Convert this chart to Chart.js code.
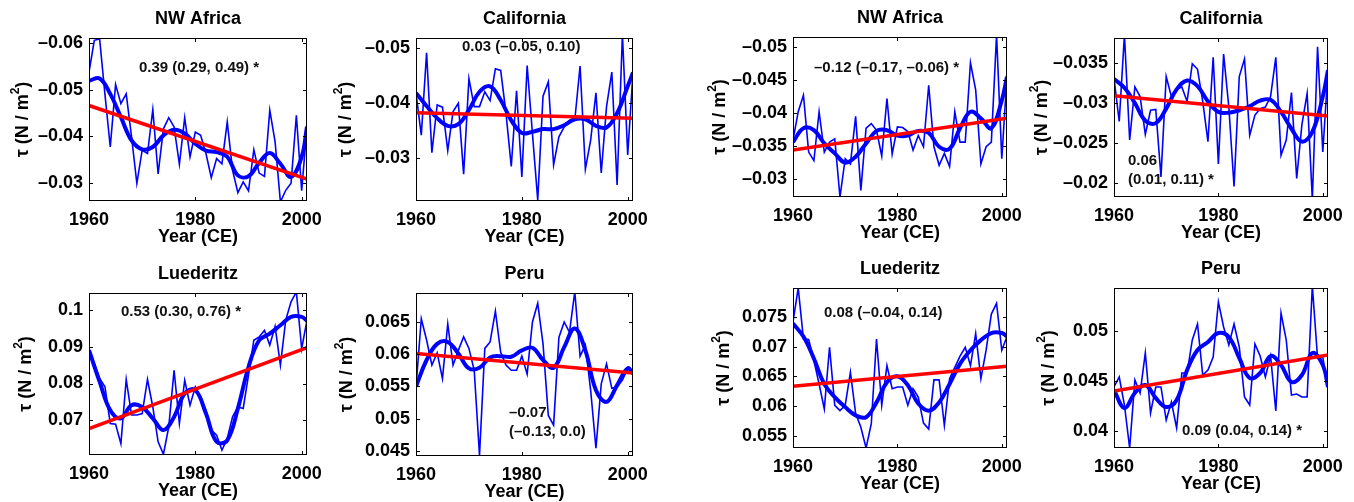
<!DOCTYPE html>
<html>
<head>
<meta charset="utf-8">
<script src="https://cdn.jsdelivr.net/npm/chart.js"></script>
<style>
  body { margin: 0; background: #fff; width: 1354px; height: 502px; position: relative; overflow: hidden; }
  canvas { position: absolute; }
</style>
</head>
<body>
<script>
const years = [1960, 1961, 1962, 1963, 1964, 1965, 1966, 1967, 1968, 1969,
  1970, 1971, 1972, 1973, 1974, 1975, 1976, 1977, 1978, 1979,
  1980, 1981, 1982, 1983, 1984, 1985, 1986, 1987, 1988, 1989,
  1990, 1991, 1992, 1993, 1994, 1995, 1996, 1997, 1998, 1999,
  2000, 2001];
const smoothYears = [1960, 1962, 1964, 1966, 1968, 1970, 1972, 1974, 1976, 1978,
  1980, 1982, 1984, 1986, 1988, 1990, 1992, 1994, 1996, 1998, 2000, 2001];
const trendYears = [1960, 2001];
const xTicks = [1960, 1980, 2000];

// NW Africa (left block)
const nwAfricaA = [-0.0538, -0.0606, -0.0609, -0.0490, -0.0377, -0.0511, -0.0470, -0.0491, -0.0399, -0.0299,
  -0.0370, -0.0363, -0.0457, -0.0319, -0.0416, -0.0440, -0.0420, -0.0340, -0.0440, -0.0356,
  -0.0409, -0.0402, -0.0363, -0.0311, -0.0352, -0.0341, -0.0431, -0.0327, -0.0279, -0.0302,
  -0.0283, -0.0371, -0.0321, -0.0314, -0.0456, -0.0388, -0.0259, -0.0284, -0.0299, -0.0445,
  -0.0283, -0.0421];
const nwAfricaASmooth = [-0.0519, -0.0524, -0.0491, -0.0441, -0.0391, -0.0372, -0.0377, -0.0402, -0.0414, -0.0406,
  -0.0384, -0.0369, -0.0366, -0.0356, -0.0316, -0.0314, -0.0343, -0.0364, -0.0341, -0.0313, -0.0356, -0.0421];
const nwAfricaATrend = [-0.0466, -0.0308];
const nwAfricaATicks = [-0.06, -0.05, -0.04, -0.03];

// California (left block)
const californiaA = [-0.0418, -0.0341, -0.0491, -0.0309, -0.0396, -0.0392, -0.0313, -0.0384, -0.0399, -0.0270,
  -0.0444, -0.0393, -0.0393, -0.0420, -0.0404, -0.0462, -0.0459, -0.0381, -0.0284, -0.0422,
  -0.0265, -0.0468, -0.0344, -0.0223, -0.0412, -0.0438, -0.0287, -0.0338, -0.0356, -0.0368,
  -0.0368, -0.0467, -0.0279, -0.0332, -0.0418, -0.0272, -0.0393, -0.0456, -0.0250, -0.0525,
  -0.0305, -0.0456];
const californiaASmooth = [-0.0418, -0.0394, -0.0372, -0.0358, -0.0361, -0.0387, -0.0420, -0.0430, -0.0405, -0.0368,
  -0.0345, -0.0347, -0.0352, -0.0352, -0.0359, -0.0370, -0.0370, -0.0358, -0.0355, -0.0381, -0.0430, -0.0455];
const californiaATrend = [-0.0382, -0.0372];
const californiaATicks = [-0.05, -0.04, -0.03];

// NW Africa (right block)
const nwAfricaB = [-0.0359, -0.0402, -0.0427, -0.0341, -0.0328, -0.0402, -0.0341, -0.0356, -0.0361, -0.0273,
  -0.0331, -0.0323, -0.0395, -0.0283, -0.0377, -0.0384, -0.0374, -0.0335, -0.0422, -0.0338,
  -0.0379, -0.0378, -0.0372, -0.0344, -0.0366, -0.0349, -0.0442, -0.0349, -0.0321, -0.0339,
  -0.0319, -0.0402, -0.0356, -0.0356, -0.0476, -0.0435, -0.0323, -0.0349, -0.0356, -0.0518,
  -0.0331, -0.0456];
const nwAfricaBSmooth = [-0.0356, -0.0377, -0.0374, -0.0354, -0.0339, -0.0325, -0.0334, -0.0354, -0.0373, -0.0374,
  -0.0366, -0.0366, -0.0373, -0.0370, -0.0349, -0.0346, -0.0377, -0.0402, -0.0392, -0.0377, -0.0419, -0.0455];
const nwAfricaBTrend = [-0.0344, -0.0392];
const nwAfricaBTicks = [-0.05, -0.045, -0.04, -0.035, -0.03];

// California (right block)
const californiaB = [-0.0331, -0.0277, -0.0385, -0.0254, -0.0320, -0.0308, -0.0261, -0.0291, -0.0292, -0.0208,
  -0.0333, -0.0308, -0.0317, -0.0320, -0.0302, -0.0349, -0.0342, -0.0302, -0.0252, -0.0357,
  -0.0224, -0.0361, -0.0295, -0.0196, -0.0333, -0.0355, -0.0260, -0.0285, -0.0293, -0.0295,
  -0.0308, -0.0357, -0.0235, -0.0254, -0.0313, -0.0206, -0.0273, -0.0312, -0.0180, -0.0370,
  -0.0239, -0.0340];
const californiaBSmooth = [-0.0330, -0.0319, -0.0300, -0.0278, -0.0275, -0.0293, -0.0317, -0.0328, -0.0321, -0.0302,
  -0.0289, -0.0288, -0.0291, -0.0296, -0.0303, -0.0304, -0.0289, -0.0268, -0.0252, -0.0264, -0.0308, -0.0341];
const californiaBTrend = [-0.0309, -0.0284];
const californiaBTicks = [-0.035, -0.03, -0.025, -0.02];

// Luederitz (left block)
const luederitzA = [0.0891, 0.0855, 0.0814, 0.0791, 0.0691, 0.0689, 0.0636, 0.0811, 0.0714, 0.0714,
  0.0718, 0.0811, 0.0736, 0.0641, 0.0607, 0.0682, 0.0836, 0.0691, 0.0809, 0.0741,
  0.0791, 0.0764, 0.0727, 0.0673, 0.0659, 0.0618, 0.0650, 0.0709, 0.0736, 0.0732,
  0.0823, 0.0918, 0.0927, 0.0945, 0.0905, 0.0956, 0.0850, 0.0973, 0.1023, 0.1050,
  0.0895, 0.0973];
const luederitzASmooth = [0.0891, 0.0805, 0.0727, 0.0705, 0.0741, 0.0736, 0.0705, 0.0673, 0.0709, 0.0773,
  0.0782, 0.0718, 0.0641, 0.0645, 0.0732, 0.0845, 0.0918, 0.0936, 0.0959, 0.0982, 0.0982, 0.0971];
const luederitzATrend = [0.0677, 0.0898];
const luederitzATicks = [0.07, 0.08, 0.09, 0.1];

// Peru (left block)
const peruA = [0.0549, 0.0655, 0.0622, 0.0583, 0.0602, 0.0562, 0.0647, 0.0583, 0.0606, 0.0627,
  0.0609, 0.0575, 0.0443, 0.0609, 0.0619, 0.0667, 0.0603, 0.0583, 0.0575, 0.0575,
  0.0597, 0.0569, 0.0650, 0.0679, 0.0616, 0.0505, 0.0490, 0.0626, 0.0650, 0.0634,
  0.0697, 0.0597, 0.0614, 0.0544, 0.0454, 0.0554, 0.0585, 0.0547, 0.0549, 0.0560,
  0.0578, 0.0570];
const peruASmooth = [0.0550, 0.0591, 0.0616, 0.0619, 0.0601, 0.0578, 0.0579, 0.0595, 0.0597, 0.0596,
  0.0606, 0.0610, 0.0591, 0.0579, 0.0611, 0.0640, 0.0606, 0.0544, 0.0526, 0.0552, 0.0578, 0.0570];
const peruATrend = [0.0601, 0.0571];
const peruATicks = [0.045, 0.05, 0.055, 0.06, 0.065];

// Luederitz (right block)
const luederitzB = [0.0742, 0.0799, 0.0713, 0.0712, 0.0677, 0.0637, 0.0595, 0.0699, 0.0601, 0.0592,
  0.0601, 0.0657, 0.0587, 0.0564, 0.0529, 0.0570, 0.0713, 0.0601, 0.0668, 0.0629,
  0.0632, 0.0632, 0.0601, 0.0629, 0.0615, 0.0571, 0.0561, 0.0644, 0.0644, 0.0567,
  0.0646, 0.0665, 0.0684, 0.0699, 0.0668, 0.0722, 0.0646, 0.0694, 0.0755, 0.0773,
  0.0694, 0.0717];
const luederitzBSmooth = [0.0739, 0.0717, 0.0680, 0.0637, 0.0615, 0.0598, 0.0584, 0.0581, 0.0606, 0.0640,
  0.0650, 0.0635, 0.0604, 0.0592, 0.0606, 0.0637, 0.0671, 0.0694, 0.0711, 0.0723, 0.0723, 0.0717];
const luederitzBTrend = [0.0633, 0.0667];
const luederitzBTicks = [0.055, 0.06, 0.065, 0.07, 0.075];

// Peru (right block)
const peruB = [0.0444, 0.0454, 0.0426, 0.0383, 0.0451, 0.0438, 0.0478, 0.0418, 0.0444, 0.0444,
  0.0411, 0.0429, 0.0403, 0.0458, 0.0458, 0.0491, 0.0507, 0.0456, 0.0461, 0.0474,
  0.0529, 0.0504, 0.0486, 0.0507, 0.0484, 0.0434, 0.0426, 0.0487, 0.0475, 0.0454,
  0.0475, 0.0420, 0.0518, 0.0491, 0.0436, 0.0437, 0.0434, 0.0434, 0.0545, 0.0473,
  0.0474, 0.0441];
const peruBSmooth = [0.0441, 0.0423, 0.0438, 0.0446, 0.0433, 0.0424, 0.0431, 0.0461, 0.0481, 0.0489,
  0.0498, 0.0494, 0.0473, 0.0453, 0.0458, 0.0475, 0.0466, 0.0449, 0.0456, 0.0478, 0.0466, 0.0444];
const peruBTrend = [0.0440, 0.0476];
const peruBTicks = [0.04, 0.045, 0.05];

const FONT = '"Liberation Sans", Arial, Helvetica, sans-serif';

// box = plot area in page pixels [left, top, right, bottom]
const panels = [
  { title: "NW Africa", box: [89, 38, 307, 201], min: -0.0611, max: -0.0261, reverse: true,
    raw: nwAfricaA, smooth: nwAfricaASmooth, trend: nwAfricaATrend, ticks: nwAfricaATicks, ylx: 66,
    notes: [{ t: "0.39 (0.29, 0.49) *", x: 139, y: 68 }] },
  { title: "California", box: [416, 38, 633, 201], min: -0.0518, max: -0.0221, reverse: true,
    raw: californiaA, smooth: californiaASmooth, trend: californiaATrend, ticks: californiaATicks, ylx: 70,
    notes: [{ t: "0.03 (–0.05, 0.10)", x: 462, y: 47 }] },
  { title: "NW Africa", box: [793, 37, 1007, 197], min: -0.0515, max: -0.0273, reverse: true,
    raw: nwAfricaB, smooth: nwAfricaBSmooth, trend: nwAfricaBTrend, ticks: nwAfricaBTicks, ylx: 73,
    notes: [{ t: "–0.12 (–0.17, –0.06) *", x: 814, y: 68 }] },
  { title: "California", box: [1114, 38, 1328, 197], min: -0.0381, max: -0.0183, reverse: true,
    raw: californiaB, smooth: californiaBSmooth, trend: californiaBTrend, ticks: californiaBTicks, ylx: 72,
    notes: [{ t: "0.06", x: 1128, y: 161 }, { t: "(0.01, 0.11) *", x: 1128, y: 180 }] },
  { title: "Luederitz", box: [89, 293, 307, 455], min: 0.0605, max: 0.1047, reverse: false,
    raw: luederitzA, smooth: luederitzASmooth, trend: luederitzATrend, ticks: luederitzATicks, ylx: 63,
    notes: [{ t: "0.53 (0.30, 0.76) *", x: 121, y: 312 }] },
  { title: "Peru", box: [416, 293, 633, 456], min: 0.0442, max: 0.0695, reverse: false,
    raw: peruA, smooth: peruASmooth, trend: peruATrend, ticks: peruATicks, ylx: 69,
    notes: [{ t: "–0.07", x: 509, y: 413 }, { t: "(–0.13, 0.0)", x: 509, y: 432 }] },
  { title: "Luederitz", box: [793, 288, 1007, 448], min: 0.0529, max: 0.0799, reverse: false,
    raw: luederitzB, smooth: luederitzBSmooth, trend: luederitzBTrend, ticks: luederitzBTicks, ylx: 69,
    notes: [{ t: "0.08 (–0.04, 0.14)", x: 824, y: 313 }] },
  { title: "Peru", box: [1114, 288, 1328, 448], min: 0.0383, max: 0.0543, reverse: false,
    raw: peruB, smooth: peruBSmooth, trend: peruBTrend, ticks: peruBTicks, ylx: 65,
    notes: [{ t: "0.09 (0.04, 0.14) *", x: 1182, y: 431 }] }
];

const PAD_L = 90, PAD_T = 40, PAD_R = 24, PAD_B = 50;

function makeFrame(p, cvLeft, cvTop) {
  return {
    id: "frame",
    afterDraw(chart) {
      const ctx = chart.ctx;
      const a = chart.chartArea;
      const xs = chart.scales.x, ys = chart.scales.y;
      ctx.save();
      ctx.strokeStyle = "#000";
      ctx.lineWidth = 1;
      ctx.strokeRect(a.left + 0.5, a.top + 0.5, a.right - a.left - 1, a.bottom - a.top - 1);
      ctx.beginPath();
      xTicks.forEach(v => {
        const x = Math.round(xs.getPixelForValue(v)) + 0.5;
        ctx.moveTo(x, a.bottom); ctx.lineTo(x, a.bottom - 4);
        ctx.moveTo(x, a.top); ctx.lineTo(x, a.top + 4);
      });
      p.ticks.forEach(v => {
        const y = Math.round(ys.getPixelForValue(v)) + 0.5;
        ctx.moveTo(a.left, y); ctx.lineTo(a.left + 4, y);
        ctx.moveTo(a.right, y); ctx.lineTo(a.right - 4, y);
      });
      ctx.stroke();

      // titles
      ctx.fillStyle = "#000";
      ctx.font = "bold 18px " + FONT;
      ctx.textAlign = "center";
      ctx.textBaseline = "middle";
      const cx = (a.left + a.right) / 2;
      ctx.fillText(p.title, cx, a.top - 19);
      ctx.fillText("Year (CE)", cx, a.bottom + 36);

      // y axis label, rotated, with superscript 2
      ctx.save();
      ctx.translate(a.left - p.ylx, (a.top + a.bottom) / 2);
      ctx.rotate(-Math.PI / 2);
      const parts = [["τ (N / m", 18, 0], ["2", 12, -7], [")", 18, 0]];
      let w = 0;
      parts.forEach(q => { ctx.font = "bold " + q[1] + "px " + FONT; w += ctx.measureText(q[0]).width; });
      let x = -w / 2;
      ctx.textAlign = "left";
      parts.forEach(q => {
        ctx.font = "bold " + q[1] + "px " + FONT;
        ctx.fillText(q[0], x, q[2]);
        x += ctx.measureText(q[0]).width;
      });
      ctx.restore();

      // trend annotations
      ctx.font = "bold 15px " + FONT;
      ctx.fillStyle = "#111";
      ctx.textAlign = "left";
      ctx.textBaseline = "middle";
      p.notes.forEach(n => ctx.fillText(n.t, n.x - cvLeft, n.y - cvTop));
      ctx.restore();
    }
  };
}

panels.forEach(p => {
  const [l, t, r, b] = p.box;
  const cvLeft = l - PAD_L, cvTop = t - PAD_T;
  const cv = document.createElement("canvas");
  cv.width = r - l + PAD_L + PAD_R;
  cv.height = b - t + PAD_T + PAD_B;
  cv.style.left = cvLeft + "px";
  cv.style.top = cvTop + "px";
  cv.style.width = cv.width + "px";
  cv.style.height = cv.height + "px";
  document.body.appendChild(cv);

  new Chart(cv, {
    type: "line",
    data: {
      datasets: [
        {
          data: trendYears.map((yr, i) => ({ x: yr, y: p.trend[i] })),
          borderColor: "#ff0000", borderWidth: 3.5, pointRadius: 0, clip: 0
        },
        {
          data: smoothYears.map((yr, i) => ({ x: yr, y: p.smooth[i] })),
          borderColor: "#0000ff", borderWidth: 4, pointRadius: 0, tension: 0.4, clip: 0
        },
        {
          data: years.map((yr, i) => ({ x: yr, y: p.raw[i] })),
          borderColor: "#0000ff", borderWidth: 1.6, pointRadius: 0, tension: 0, clip: 0
        }
      ]
    },
    options: {
      responsive: false,
      animation: false,
      devicePixelRatio: 1,
      layout: { padding: { left: 0, top: PAD_T, right: PAD_R, bottom: 0 } },
      plugins: { legend: { display: false }, tooltip: { enabled: false }, title: { display: false } },
      scales: {
        x: {
          type: "linear", min: 1960, max: 2001,
          grid: { display: false, drawTicks: false },
          border: { display: false },
          ticks: {
            autoSkip: false, maxRotation: 0, padding: 8, color: "#000",
            font: { family: FONT, size: 18, weight: "bold" },
            callback: v => String(v)
          },
          afterBuildTicks: s => { s.ticks = xTicks.map(v => ({ value: v })); },
          afterFit: s => { s.height = PAD_B; }
        },
        y: {
          type: "linear", min: p.min, max: p.max, reverse: p.reverse,
          grid: { display: false, drawTicks: false },
          border: { display: false },
          ticks: {
            autoSkip: false, padding: 6, color: "#000",
            font: { family: FONT, size: 18, weight: "bold" },
            callback: v => String(v).replace("-", "–")
          },
          afterBuildTicks: s => { s.ticks = p.ticks.map(v => ({ value: v })); },
          afterFit: s => { s.width = PAD_L; }
        }
      }
    },
    plugins: [makeFrame(p, cvLeft, cvTop)]
  });
});
</script>
</body>
</html>
